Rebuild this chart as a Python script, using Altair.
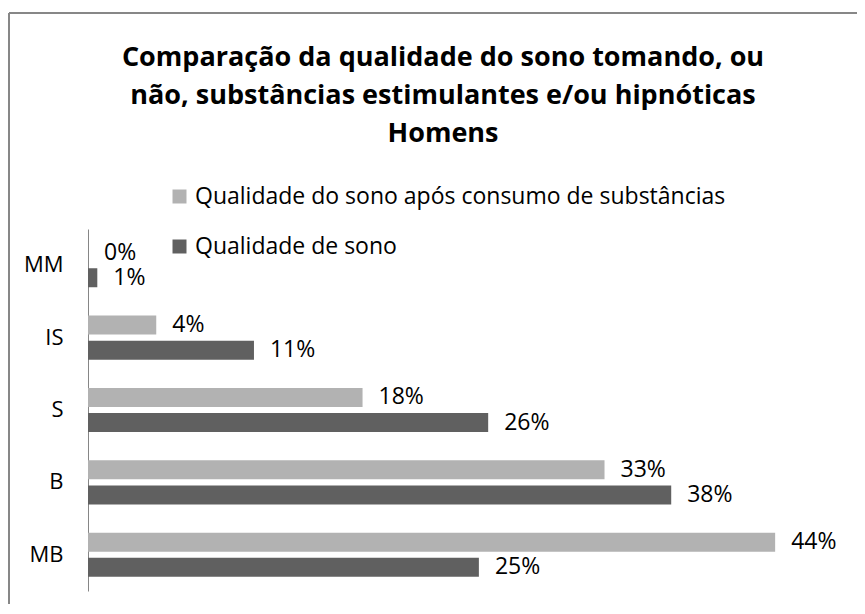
import altair as alt
import pandas as pd

categories = ["MM", "IS", "S", "B", "MB"]
series_names = ["Qualidade do sono após consumo de substâncias", "Qualidade de sono"]
after_values = [0.0, 4.4, 17.7, 33.3, 44.3]
before_values = [0.6, 10.7, 25.8, 37.6, 25.2]
after_labels = ["0%", "4%", "18%", "33%", "44%"]
before_labels = ["1%", "11%", "26%", "38%", "25%"]
colors = ["#b2b2b2", "#606060"]
title_lines = [
    "Comparação da qualidade do sono tomando, ou",
    "não, substâncias estimulantes e/ou hipnóticas",
    "Homens",
]

rows = []
for i, c in enumerate(categories):
    rows.append({"cat": c, "serie": series_names[0], "valor": after_values[i], "rotulo": after_labels[i]})
    rows.append({"cat": c, "serie": series_names[1], "valor": before_values[i], "rotulo": before_labels[i]})
df = pd.DataFrame(rows)

FONT = "Open Sans"

y_enc = alt.Y(
    "cat:N",
    sort=categories,
    scale=alt.Scale(paddingInner=0.39, paddingOuter=0.195),
    axis=alt.Axis(
        title=None, ticks=False, grid=False,
        domainColor="#868686", domainWidth=1,
        labelFont=FONT, labelFontSize=22, labelColor="#000000",
        labelPadding=25,
    ),
)
yoff = alt.YOffset("serie:N", sort=series_names, scale=alt.Scale(paddingInner=0.24))
x_enc = alt.X("valor:Q", scale=alt.Scale(domain=[0, 45]), axis=None)
color_enc = alt.Color(
    "serie:N",
    sort=series_names,
    scale=alt.Scale(domain=series_names, range=colors),
    legend=alt.Legend(
        orient="none", legendX=80, legendY=-44, title=None,
        symbolType="square", symbolSize=196, symbolStrokeWidth=0,
        labelFont=FONT, labelFontSize=23, labelColor="#000000",
        labelOffset=4, rowPadding=26, padding=0, labelLimit=900,
        direction="vertical",
    ),
)

base = alt.Chart(df)
bars = base.mark_bar(size=19).encode(x=x_enc, y=y_enc, yOffset=yoff, color=color_enc)
labels = base.mark_text(align="left", baseline="middle", dx=16, font=FONT, fontSize=23, color="#000000").encode(
    x=x_enc, y=y_enc, yOffset=yoff, text="rotulo:N"
)

frame_df = pd.DataFrame({"k": [0]})
top_border = alt.Chart(frame_df).mark_rule(color="#878787", strokeWidth=2).encode(
    x=alt.value(-79), x2=alt.value(800), y=alt.value(-216)
)
left_border = alt.Chart(frame_df).mark_rule(color="#878787", strokeWidth=2).encode(
    x=alt.value(-79), y=alt.value(-216), y2=alt.value(400)
)

chart = alt.layer(top_border, left_border, bars, labels).properties(
    width=698,
    height=362,
    title=alt.TitleParams(
        text=title_lines, font=FONT, fontSize=27, fontWeight="bold", color="#000000",
        anchor="middle", lineHeight=38, offset=-136, dx=6,
    ),
    autosize=alt.AutoSizeParams(type="none"),
    padding={"left": 80, "top": 221, "right": 71, "bottom": 13},
).configure_view(stroke=None)

chart.save("out.html", embed_options={"renderer": "svg", "actions": False})
